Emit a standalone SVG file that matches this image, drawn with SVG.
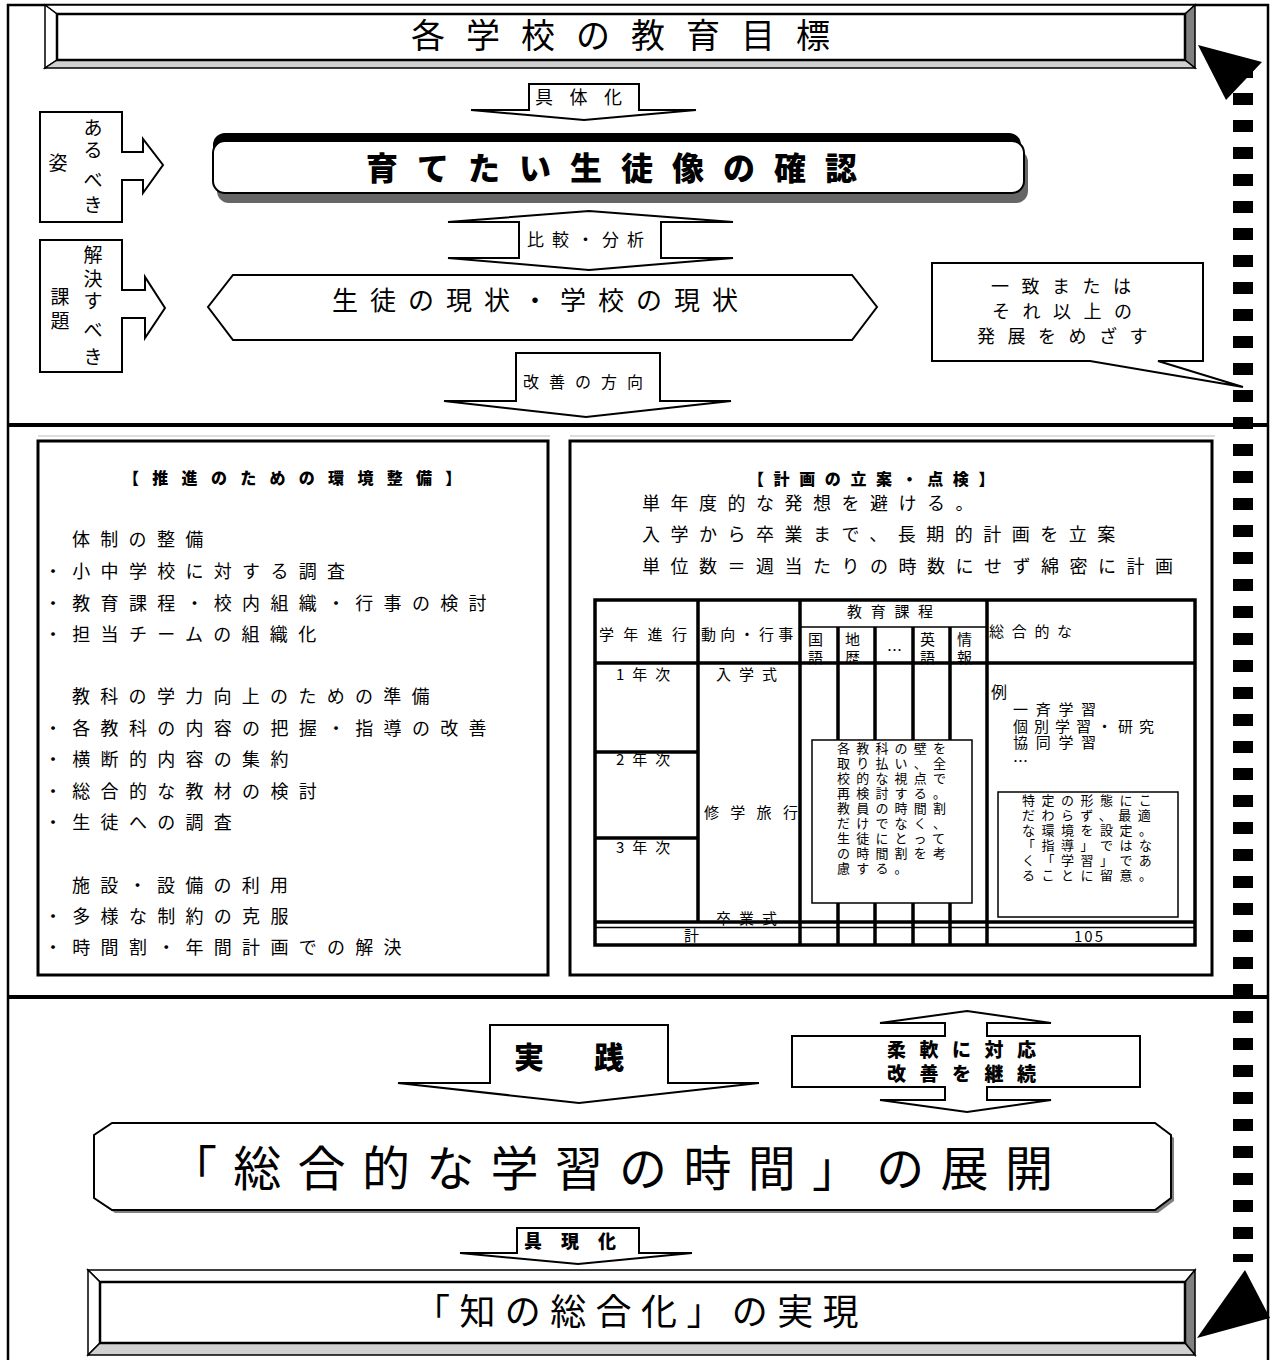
<svg xmlns="http://www.w3.org/2000/svg" width="1272" height="1360" viewBox="0 0 1272 1360">
<defs>
<style>
text{font-family:"Noto Sans CJK JP","Noto Sans CJK SC",sans-serif;fill:#000}
.b{font-weight:900}
.sh{fill:#fff;stroke:#000;stroke-width:2}
.t{fill:none;stroke:#000;stroke-width:3.5}
.lp{font-size:18px;letter-spacing:10.3px}
.rp{font-size:18px;letter-spacing:10.5px}
.tb{font-size:15px}
.ib{font-size:13px;letter-spacing:6.2px}
.ib2{font-size:13px;letter-spacing:6.5px}
</style>
</defs>
<rect width="1272" height="1360" fill="#fff"/>
<g id="frame">
<path d="M8,1360 V5 H1268 V1360" fill="none" stroke="#000" stroke-width="2.5"/>
<line x1="8" y1="425" x2="1268" y2="425" stroke="#000" stroke-width="4"/>
<line x1="8" y1="997" x2="1268" y2="997" stroke="#000" stroke-width="4"/>
<line x1="38" y1="436" x2="550" y2="436" stroke="#bbb" stroke-width="1"/>
<line x1="570" y1="436" x2="1215" y2="436" stroke="#bbb" stroke-width="1"/>
</g>
<g id="goal">
<polygon points="45,5 1195,5 1185,14 57,14" fill="#fff" stroke="#000" stroke-width="1.5"/>
<polygon points="45,5 57,14 57,60 45,68" fill="#fff" stroke="#000" stroke-width="1.5"/>
<polygon points="1195,5 1195,68 1185,60 1185,14" fill="#808080" stroke="#000" stroke-width="1.5"/>
<polygon points="45,68 1195,68 1185,60 57,60" fill="#d0d0d0" stroke="#000" stroke-width="1.5"/>
<rect x="57" y="14" width="1128" height="46" fill="#fff" stroke="#000" stroke-width="2.5"/>
<text x="411" y="48" font-size="34" letter-spacing="21">各学校の教育目標</text>
</g>
<g id="gutaika">
<polygon points="529,84 639,84 639,110 696,110 584,120 471,110 529,110" class="sh" stroke-width="1.5"/>
<text x="535" y="104" font-size="18" letter-spacing="16.5">具体化</text>
</g>
<g id="ideal">
<rect x="217" y="150" width="811" height="53" rx="12" fill="#666"/>
<rect x="213" y="133" width="808" height="50" rx="12" fill="#000"/>
<rect x="213" y="141" width="811" height="52" rx="12" fill="#fff" stroke="#000" stroke-width="2"/>
<text class="b" x="366" y="180" font-size="32" letter-spacing="19">育てたい生徒像の確認</text>
</g>
<g id="arubeki">
<path d="M40,112 H122 V152 H143 V139 L163,165 L143,193 V180 H122 V222 H40 Z" class="sh"/>
<g font-size="19" text-anchor="middle">
<text x="93" y="135">あ</text>
<text x="93" y="157">る</text>
<text x="93" y="187">べ</text>
<text x="93" y="212">き</text>
<text x="58" y="170">姿</text>
</g>
</g>
<g id="kadai">
<path d="M40,240 H122 V290 H145 V277 L165,308 L145,338 V318 H122 V372 H40 Z" class="sh"/>
<g font-size="19" text-anchor="middle">
<text x="93" y="262">解</text>
<text x="93" y="286">決</text>
<text x="93" y="308">す</text>
<text x="93" y="337">べ</text>
<text x="93" y="364">き</text>
<text x="60" y="304">課</text>
<text x="60" y="328">題</text>
</g>
</g>
<g id="hikaku">
<polygon points="589,211 733,222 661,222 661,258 733,258 589,270 448,258 519,258 519,222 448,222" class="sh" stroke-width="1.5"/>
<text x="527" y="246" font-size="17" letter-spacing="8">比較・分析</text>
</g>
<g id="genjo">
<polygon points="233,275 852,275 877,307 852,340 233,340 208,307" class="sh"/>
<text x="332" y="310" font-size="26" letter-spacing="12">生徒の現状・学校の現状</text>
</g>
<g id="kaizen">
<polygon points="516,353 660,353 660,401 731,401 586,417 444,401 516,401" class="sh" stroke-width="1.5"/>
<text x="523" y="388" font-size="16" letter-spacing="10">改善の方向</text>
</g>
<g id="callout">
<path d="M932,263 H1203 V361 H1158 L1243,387 L1090,361 H932 Z" class="sh" stroke-width="1.5"/>
<g font-size="18" letter-spacing="12.5">
<text x="991" y="293">一致または</text>
<text x="992" y="318">それ以上の</text>
<text x="977" y="343">発展をめざす</text>
</g>
</g>
<g id="kankyo">
<rect x="38" y="441" width="510" height="534" fill="#fff" stroke="#000" stroke-width="3"/>
<text class="b" x="123" y="484" font-size="16" letter-spacing="13.3">【推進のための環境整備】</text>
<g class="lp">
<text x="72" y="546">体制の整備</text>
<text x="44" y="578">・小中学校に対する調査</text>
<text x="44" y="610">・教育課程・校内組織・行事の検討</text>
<text x="44" y="641">・担当チームの組織化</text>
<text x="72" y="703">教科の学力向上のための準備</text>
<text x="44" y="735">・各教科の内容の把握・指導の改善</text>
<text x="44" y="766">・横断的内容の集約</text>
<text x="44" y="798">・総合的な教材の検討</text>
<text x="44" y="829">・生徒への調査</text>
<text x="72" y="892">施設・設備の利用</text>
<text x="44" y="923">・多様な制約の克服</text>
<text x="44" y="954">・時間割・年間計画での解決</text>
</g>
</g>
<g id="keikaku">
<rect x="570" y="441" width="642" height="534" fill="#fff" stroke="#000" stroke-width="3"/>
<text class="b" x="748" y="485" font-size="16" letter-spacing="9.6">【計画の立案・点検】</text>
<g class="rp">
<text x="642" y="510">単年度的な発想を避ける。</text>
<text x="642" y="541">入学から卒業まで、長期的計画を立案</text>
<text x="642" y="573">単位数＝週当たりの時数にせず綿密に計画</text>
</g>
</g>
<g id="table">
<rect x="595" y="600" width="600" height="345" fill="#fff"/>
<g class="tb">
<text x="599" y="640" letter-spacing="9.3">学年進行</text>
<text x="701" y="640" letter-spacing="4.3">動向・行事</text>
<text x="847" y="617" letter-spacing="8.7">教育課程</text>
<text x="989" y="637" letter-spacing="7.7">総合的な</text>
<text x="808" y="645">国</text><text x="808" y="663">語</text>
<text x="845" y="645">地</text><text x="845" y="663">歴</text>
<text x="887" y="656">…</text>
<text x="920" y="645">英</text><text x="920" y="663">語</text>
<text x="957" y="645">情</text><text x="957" y="663">報</text>
<text x="616" y="680" letter-spacing="8">1年次</text>
<text x="616" y="765" letter-spacing="8">2年次</text>
<text x="616" y="853" letter-spacing="8">3年次</text>
<text x="716" y="680" letter-spacing="8">入学式</text>
<text x="704" y="818" letter-spacing="11.3">修学旅行</text>
<text x="716" y="924" letter-spacing="8">卒業式</text>
<text x="684" y="941">計</text>
<text x="1074" y="942" letter-spacing="2">105</text>
<text x="991" y="698" font-size="16">例</text>
<text x="1013" y="715" letter-spacing="7.7">一斉学習</text>
<text x="1013" y="732" letter-spacing="6">個別学習・研究</text>
<text x="1013" y="748" letter-spacing="7.7">協同学習</text>
<text x="1013" y="767">…</text>
</g>
<rect x="595" y="600" width="600" height="345" fill="none" stroke="#000" stroke-width="3.5"/>
<path class="t" d="M698,600 V923 M800,600 V945 M987,600 V945 M838,627 V945 M875,627 V945 M913,627 V945 M950,627 V945 M595,663 H1195 M595,752 H698 M595,838 H698 M595,922 H1195"/>
<path d="M800,627 H987 M595,927.5 H1195" stroke="#000" stroke-width="1.5" fill="none"/>
<rect x="812" y="740" width="160" height="163" fill="#fff" stroke="#000" stroke-width="1.5"/>
<g class="ib">
<text x="837" y="753">各教科の壁を</text>
<text x="837" y="768">取り払い、全</text>
<text x="837" y="783">校的な視点で</text>
<text x="837" y="798">再検討する。</text>
<text x="837" y="813">教員の時間割</text>
<text x="837" y="828">だけでなく、</text>
<text x="837" y="843">生徒にとって</text>
<text x="837" y="858">の時間割を考</text>
<text x="837" y="873">慮する。</text>
</g>
<rect x="998" y="792" width="180" height="125" fill="#fff" stroke="#000" stroke-width="1.5"/>
<g class="ib2">
<text x="1022" y="805">特定の形態にこ</text>
<text x="1022" y="820">だわらず、最適</text>
<text x="1022" y="835">な環境を設定。</text>
<text x="1022" y="850">「指導」ではな</text>
<text x="1022" y="865">く「学習」であ</text>
<text x="1022" y="880">ることに留意。</text>
</g>
</g>
<g id="jissen">
<polygon points="490,1025 668,1025 668,1083 759,1083 579,1103 398,1083 490,1083" class="sh" stroke-width="1.5"/>
<text class="b" x="514" y="1068" font-size="30" letter-spacing="50">実践</text>
</g>
<g id="junan">
<polygon points="967,1011 1051,1023 987,1023 987,1036 1140,1036 1140,1087 987,1087 987,1100 1051,1100 967,1112 880,1100 945,1100 945,1087 792,1087 792,1036 945,1036 945,1023 880,1023" class="sh" stroke-width="1.5"/>
<g class="b" font-size="19" letter-spacing="13.5">
<text x="887" y="1057">柔軟に対応</text>
<text x="887" y="1081">改善を継続</text>
</g>
</g>
<g id="tenkai">
<polygon points="115,1126 1158,1126 1174,1138 1174,1201 1158,1213 115,1213 97,1201 97,1138" fill="#808080"/>
<polygon points="112,1123 1155,1123 1171,1135 1171,1198 1155,1210 112,1210 94,1198 94,1135" class="sh"/>
<text x="169" y="1186" font-size="48" letter-spacing="16.3">「総合的な学習の時間」の展開</text>
</g>
<g id="gugenka">
<polygon points="517,1228 639,1228 639,1253 692,1253 578,1264 460,1253 517,1253" class="sh" stroke-width="1.5"/>
<text class="b" x="524" y="1248" font-size="18" letter-spacing="19">具現化</text>
</g>
<g id="chi">
<polygon points="88,1270 1195,1270 1185,1282 100,1282" fill="#fff" stroke="#000" stroke-width="1.5"/>
<polygon points="88,1270 100,1282 100,1343 88,1355" fill="#fff" stroke="#000" stroke-width="1.5"/>
<polygon points="1195,1270 1195,1355 1185,1343 1185,1282" fill="#808080" stroke="#000" stroke-width="1.5"/>
<polygon points="88,1355 1195,1355 1185,1343 100,1343" fill="#d0d0d0" stroke="#000" stroke-width="1.5"/>
<rect x="100" y="1282" width="1085" height="61" fill="#fff" stroke="#000" stroke-width="2.5"/>
<text x="414" y="1325" font-size="36" letter-spacing="9.4">「知の総合化」の実現</text>
</g>
<g id="connectors">
<line x1="1243" y1="66" x2="1243" y2="1262" stroke="#000" stroke-width="20" stroke-dasharray="12 15"/>
<polygon points="1198,45 1262,62 1226,100" fill="#000"/>
<polygon points="1197,1338 1245,1270 1270,1318" fill="#000"/>
</g>
</svg>
